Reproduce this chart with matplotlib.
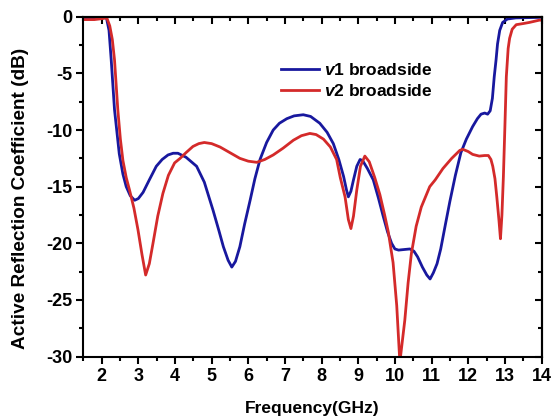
import matplotlib
matplotlib.use("Agg")
import matplotlib.pyplot as plt
from matplotlib.ticker import MultipleLocator

plt.rcParams['font.family'] = ['Liberation Sans', 'DejaVu Sans']
plt.rcParams['font.weight'] = 'bold'
plt.rcParams['axes.unicode_minus'] = False
plt.rcParams['mathtext.fontset'] = 'custom'
plt.rcParams['mathtext.rm'] = 'Liberation Sans:bold'
plt.rcParams['mathtext.it'] = 'Liberation Sans:bold:italic'

# ---- data ----
freq_v1 = [1.5, 1.8, 2.05, 2.13, 2.2, 2.26, 2.35, 2.48, 2.58, 2.67, 2.78, 2.9, 3.0, 3.13,
           3.3, 3.49, 3.65, 3.81, 3.95, 4.08, 4.3, 4.59, 4.8, 5.04, 5.2, 5.32, 5.45, 5.55,
           5.65, 5.77, 5.9, 6.05, 6.18, 6.32, 6.5, 6.68, 6.85, 7.05, 7.25, 7.5, 7.7, 7.95,
           8.15, 8.32, 8.47, 8.6, 8.68, 8.73, 8.8, 8.87, 8.96, 9.05, 9.12, 9.25, 9.41, 9.55,
           9.68, 9.8, 9.91, 10.0, 10.1, 10.25, 10.41, 10.52, 10.62, 10.75, 10.87, 10.96,
           11.05, 11.15, 11.25, 11.38, 11.5, 11.65, 11.8, 11.95, 12.12, 12.25, 12.35, 12.45,
           12.53, 12.6, 12.66, 12.71, 12.76, 12.8, 12.86, 12.94, 13.07, 13.3, 14.0]
s_v1 = [-0.1, -0.1, -0.05, -0.1, -1.2, -3.8, -8.2, -12.1, -13.9, -15.0, -15.8, -16.2, -16.05,
        -15.5, -14.4, -13.2, -12.6, -12.2, -12.05, -12.05, -12.4, -13.2, -14.6, -17.1, -18.9,
        -20.3, -21.5, -22.1, -21.6, -20.3, -18.3, -16.2, -14.3, -12.6, -11.1, -10.0, -9.4,
        -9.0, -8.75, -8.65, -8.8, -9.4, -10.2, -11.2, -12.6, -14.1, -15.3, -15.9, -15.4,
        -14.4, -13.2, -12.6, -12.7, -13.4, -14.4, -16.0, -17.6, -19.0, -20.0, -20.5, -20.6,
        -20.55, -20.5, -20.7, -21.2, -22.1, -22.8, -23.15, -22.6, -21.8, -20.5, -18.3, -16.3,
        -14.0, -12.0, -10.8, -9.7, -9.0, -8.6, -8.5, -8.6, -8.3, -7.2, -5.3, -3.8, -2.4,
        -1.2, -0.5, -0.2, -0.1, -0.05]

freq_v2 = [1.5, 1.8, 2.05, 2.14, 2.22, 2.29, 2.35, 2.44, 2.51, 2.58, 2.67, 2.76, 2.88, 2.99,
           3.1, 3.2, 3.3, 3.4, 3.53, 3.67, 3.82, 3.99, 4.14, 4.3, 4.49, 4.65, 4.8, 5.0, 5.23,
           5.5, 5.77, 6.0, 6.23, 6.45, 6.68, 6.95, 7.23, 7.45, 7.68, 7.85, 8.05, 8.24, 8.41,
           8.51, 8.64, 8.73, 8.8, 8.87, 8.96, 9.06, 9.18, 9.3, 9.45, 9.59, 9.72, 9.82, 9.95,
           10.05, 10.135, 10.27, 10.36, 10.45, 10.58, 10.72, 10.95, 11.1, 11.31, 11.55, 11.77,
           11.85, 12.0, 12.12, 12.3, 12.45, 12.55, 12.62, 12.67, 12.73, 12.78, 12.84, 12.88,
           12.92, 12.96, 13.0, 13.04, 13.09, 13.13, 13.2, 13.31, 13.5, 13.67, 13.94, 14.0]
s_v2 = [-0.25, -0.25, -0.15, -0.1, -0.8, -2.0, -3.8, -8.2, -10.8, -12.7, -14.2, -15.3, -16.9,
        -18.8, -21.0, -22.8, -21.8, -20.0, -17.6, -15.6, -14.0, -12.9, -12.5, -12.0, -11.45,
        -11.2, -11.1, -11.2, -11.5, -12.0, -12.5, -12.75, -12.85, -12.6, -12.2, -11.6, -10.9,
        -10.5, -10.3, -10.4, -10.8, -11.5, -12.6, -14.2, -15.9, -17.9, -18.7, -17.6, -15.3,
        -13.2, -12.3, -12.8, -14.2, -15.7, -17.5, -19.0, -21.7, -25.5, -30.5, -26.8, -23.5,
        -20.9, -18.5, -16.8, -15.0, -14.4, -13.4, -12.5, -11.8, -11.7, -11.9, -12.15, -12.3,
        -12.25, -12.25, -12.6, -13.2, -14.3, -15.9, -18.0, -19.6, -17.5, -14.1, -9.8, -5.3,
        -2.8, -1.9, -1.1, -0.7, -0.6, -0.5, -0.3, -0.3]

labels = [r"$v$1 broadside", r"$v$2 broadside"]
colors = ["#18189e", "#d42a2a"]

fig = plt.figure(figsize=(5.52, 4.19), dpi=100)
ax = fig.add_axes([0.151, 0.149, 0.830, 0.811])

ax.plot(freq_v1, s_v1, color=colors[0], lw=2.0, label=labels[0])
ax.plot(freq_v2, s_v2, color=colors[1], lw=2.0, label=labels[1])

ax.set_xlim(1.5, 14)
ax.set_ylim(-30, 0)
ax.xaxis.set_major_locator(MultipleLocator(1))
ax.xaxis.set_minor_locator(MultipleLocator(0.5))
ax.yaxis.set_major_locator(MultipleLocator(5))
ax.yaxis.set_minor_locator(MultipleLocator(2.5))
ax.set_xticks(range(2, 15))
ax.tick_params(which='major', direction='out', length=5, width=1.5, labelsize=13, pad=3)
ax.tick_params(which='minor', direction='out', length=3, width=1.5)
for s in ax.spines.values():
    s.set_linewidth(1.5)

top = ax.secondary_xaxis('top')
top.xaxis.set_major_locator(MultipleLocator(1))
top.xaxis.set_minor_locator(MultipleLocator(0.5))
top.tick_params(which='major', direction='in', length=5, width=1.5, labeltop=False)
top.tick_params(which='minor', direction='in', length=3, width=1.5)
right = ax.secondary_yaxis('right')
right.yaxis.set_major_locator(MultipleLocator(5))
right.yaxis.set_minor_locator(MultipleLocator(2.5))
right.tick_params(which='major', direction='in', length=5, width=1.5, labelright=False)
right.tick_params(which='minor', direction='in', length=3, width=1.5)
for sa in (top, right):
    for s in sa.spines.values():
        s.set_linewidth(1.5)

ax.set_xlabel("Frequency(GHz)", fontsize=12.5, fontweight='bold', labelpad=12)
ax.set_ylabel("Active Reflection Coefficient (dB)", fontsize=13.7, fontweight='bold')
ax.yaxis.set_label_coords(-0.118, 0.467)

ax.legend(loc='upper left', bbox_to_anchor=(0.431, 0.868), frameon=False,
          prop={'weight': 'bold', 'size': 12.5}, handlelength=2.2, handletextpad=0.3,
          labelspacing=0.33, borderpad=0, borderaxespad=0)

fig.savefig("out.png", dpi=100)
